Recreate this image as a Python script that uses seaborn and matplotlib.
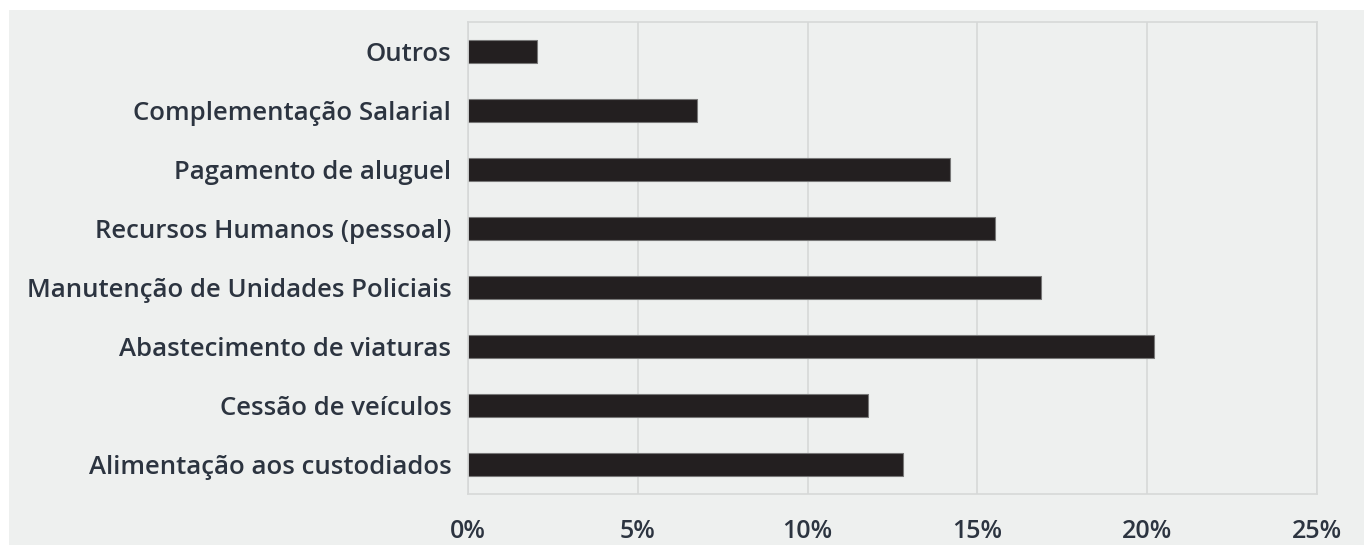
import matplotlib
matplotlib.use("Agg")
import matplotlib.pyplot as plt
import seaborn as sns
import pandas as pd
from matplotlib.ticker import PercentFormatter

categories = [
    "Outros",
    "Complementação Salarial",
    "Pagamento de aluguel",
    "Recursos Humanos (pessoal)",
    "Manutenção de Unidades Policiais",
    "Abastecimento de viaturas",
    "Cessão de veículos",
    "Alimentação aos custodiados",
]
values = [2.03, 6.75, 14.18, 15.51, 16.86, 20.19, 11.79, 12.82]
xticks = [0, 5, 10, 15, 20, 25]

bg = "#eef0ef"
txt = "#2c3440"
sns.set_theme(style="whitegrid")
plt.rcParams["font.family"] = ["Open Sans", "DejaVu Sans"]

df = pd.DataFrame({"cat": categories, "val": values})

fig = plt.figure(figsize=(13.64, 5.45), dpi=100, facecolor="white")
fig.patches.append(plt.Rectangle((9 / 1364, 0), 1, 1 - 10 / 545, transform=fig.transFigure,
                                 facecolor=bg, edgecolor="none", zorder=-10))
ax = fig.add_axes([468 / 1364, 1 - 494 / 545, (1317 - 468) / 1364, (494 - 22) / 545])
ax.set_facecolor(bg)

sns.barplot(data=df, x="val", y="cat", ax=ax, color="#231f20", width=0.4,
            edgecolor="#777777", linewidth=0.8, saturation=1, orient="h")

ax.set_xlim(0, 25)
ax.set_ylim(7.5, -0.5)
ax.set_xticks(xticks)
ax.xaxis.set_major_formatter(PercentFormatter(decimals=0))
ax.set_xlabel("")
ax.set_ylabel("")
ax.grid(axis="x", color="#d6d8d8", linewidth=1.2)
ax.grid(axis="y", visible=False)
for s in ax.spines.values():
    s.set_color("#d6d8d8")
    s.set_linewidth(1.2)
ax.tick_params(axis="x", labelsize=18, colors=txt, pad=18, length=0)
ax.tick_params(axis="y", labelsize=18.5, colors=txt, pad=12, length=0)
for lab in ax.get_xticklabels():
    lab.set_fontweight("semibold")
for lab in ax.get_yticklabels():
    lab.set_fontweight("semibold")

fig.savefig("out.png", dpi=100, facecolor="white")
